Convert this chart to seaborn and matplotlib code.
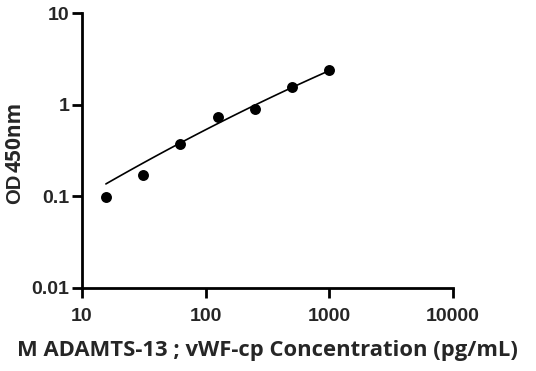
import numpy as np
import pandas as pd
import matplotlib
matplotlib.use("Agg")
import matplotlib.pyplot as plt
import seaborn as sns

# Data
concentration = [15.6, 31.25, 62.5, 125, 250, 500, 1000]
od450 = [0.098, 0.170, 0.368, 0.728, 0.89, 1.54, 2.36]
x_ticks = [10, 100, 1000, 10000]
x_tick_labels = ["10", "100", "1000", "10000"]
y_ticks = [0.01, 0.1, 1, 10]
y_tick_labels = ["0.01", "0.1", "1", "10"]
x_label = "M ADAMTS-13 ; vWF-cp Concentration (pg/mL)"

sns.set_style("ticks")
plt.rcParams['font.family'] = ['Open Sans', 'DejaVu Sans']
plt.rcParams['font.weight'] = 'bold'

df = pd.DataFrame({"conc": concentration, "od": od450})

# weighted log-log fit of the standard curve
lx = np.log10(df["conc"].values)
ly = np.log10(df["od"].values)
coef = np.polyfit(lx, ly, 2, w=df["od"].values)
fx = np.linspace(lx.min(), lx.max(), 100)
fit = pd.DataFrame({"conc": 10 ** fx, "od": 10 ** np.polyval(coef, fx)})

fig = plt.figure(figsize=(5.36, 3.71), dpi=100)
ax = fig.add_axes([82/536, 1-288/371, (453-82)/536, (288-13)/371])

sns.lineplot(data=fit, x="conc", y="od", ax=ax, color="black", linewidth=1.2)
sns.scatterplot(data=df, x="conc", y="od", ax=ax, color="black", s=62,
                edgecolor="black", linewidth=0, zorder=3)

ax.set_xscale("log")
ax.set_yscale("log")
ax.set_xlim(10, 10000)
ax.set_ylim(0.01, 10)
ax.set_xticks(x_ticks)
ax.set_xticklabels(x_tick_labels)
ax.set_yticks(y_ticks)
ax.set_yticklabels(y_tick_labels)
ax.minorticks_off()
ax.tick_params(axis="both", which="major", length=7.5, width=2,
               color="black", direction="out", labelsize=14,
               labelfontfamily="Liberation Sans")
ax.tick_params(axis="x", pad=7)
ax.tick_params(axis="y", pad=1.5)
for side in ["left", "bottom"]:
    ax.spines[side].set_linewidth(2)
    ax.spines[side].set_color("black")
sns.despine(ax=ax)

ax.set_xlabel(x_label, fontsize=15.8, fontweight="bold", labelpad=11)
ax.set_ylabel("")
fig.text(14.5/536, 1-189/371, "OD", rotation=90, fontsize=14.5, fontweight="bold",
         family=["Liberation Sans", "DejaVu Sans"], ha="center", va="center")
fig.text(15.5/536, 1-137/371, "450nm", rotation=90, fontsize=15, fontweight="bold",
         ha="center", va="center")

for lab in ax.get_xticklabels() + ax.get_yticklabels():
    lab.set_fontweight("bold")

fig.savefig("out.png", dpi=100)
